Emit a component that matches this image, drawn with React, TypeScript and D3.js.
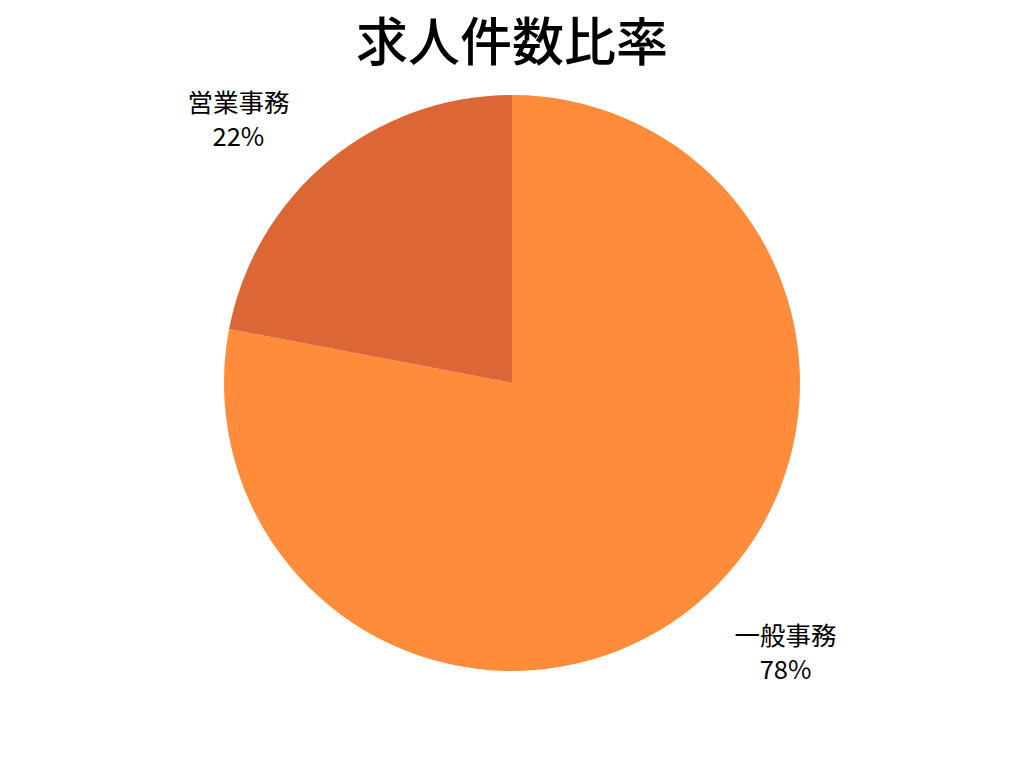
import React from "react";
import * as d3 from "d3";

const title = "求人件数比率";
const categories = ["一般事務", "営業事務"];
const values = [78, 22];
const colors = ["#FF8C3A", "#DD6636"];

const W = 1024;
const H = 768;
const cx = 512;
const cy = 383;
const R = 288;

export default function App() {
  const pie = d3.pie<number>().sort(null).value((d) => d);
  const arcs = pie(values);
  const arc = d3.arc<d3.PieArcDatum<number>>().innerRadius(0).outerRadius(R);
  const total = d3.sum(values);
  const font = "'Noto Sans CJK JP', 'Noto Sans', sans-serif";
  return (
    <svg
      width={W}
      height={H}
      style={{ position: "absolute", left: 0, top: 0, background: "#fff" }}
    >
      <text
        x={W / 2}
        y={38}
        textAnchor="middle"
        dominantBaseline="central"
        fontFamily={font}
        fontSize={52}
        fontWeight={500}
        fill="#000"
      >
        {title}
      </text>
      <g transform={`translate(${cx},${cy})`}>
        {arcs.map((a, i) => (
          <path key={i} d={arc(a) || ""} fill={colors[i]} />
        ))}
        {arcs.map((a, i) => {
          const mid = (a.startAngle + a.endAngle) / 2;
          const x = Math.sin(mid) * R * 1.49;
          const y = -Math.cos(mid) * R * 1.2;
          const pct = Math.round((a.value / total) * 100);
          return (
            <g key={"l" + i} transform={`translate(${x},${y + 1})`}>
              <text
                y={-17}
                textAnchor="middle"
                dominantBaseline="central"
                fontFamily={font}
                fontSize={25.5}
                fill="#000"
              >
                {categories[i]}
              </text>
              <text
                y={17}
                textAnchor="middle"
                dominantBaseline="central"
                fontFamily={font}
                fontSize={25.5}
                fill="#000"
              >
                {pct}%
              </text>
            </g>
          );
        })}
      </g>
    </svg>
  );
}
